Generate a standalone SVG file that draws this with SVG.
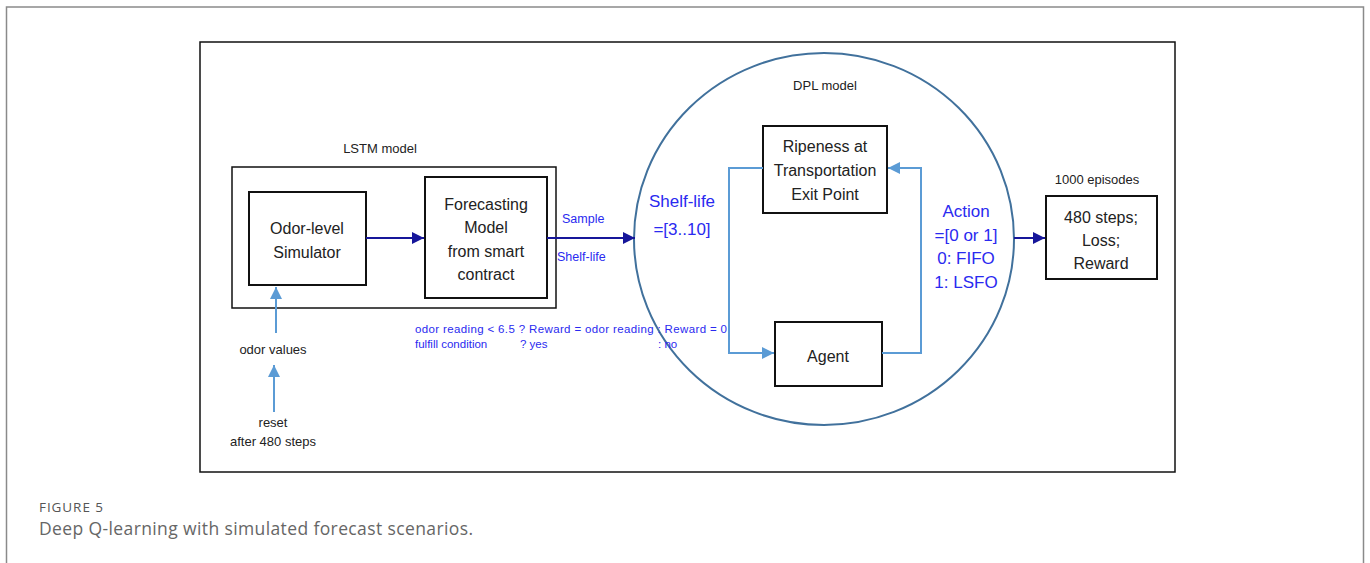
<svg xmlns="http://www.w3.org/2000/svg" width="1370" height="563" viewBox="0 0 1370 563">
<style>
.bx{fill:#fff;stroke:#111;stroke-width:2}
.t{font-family:"Liberation Sans",Arial,sans-serif;fill:#222;text-anchor:middle}
.b{font-family:"Liberation Sans",Arial,sans-serif;fill:#2a2af0}
.nv{stroke:#16169a;stroke-width:2;fill:none}
.lb{stroke:#5b9bd5;stroke-width:2;fill:none}
</style>
<defs>
<marker id="an" viewBox="0 0 10 10" refX="10" refY="5" markerWidth="6" markerHeight="6" orient="auto" markerUnits="strokeWidth"><path d="M0,0L10,5L0,10z" fill="#16169a"/></marker>
<marker id="al" viewBox="0 0 10 10" refX="10" refY="5" markerWidth="6" markerHeight="6" orient="auto" markerUnits="strokeWidth"><path d="M0,0L10,5L0,10z" fill="#5b9bd5"/></marker>
</defs>
<rect width="1370" height="563" fill="#fff"/>
<rect x="6.5" y="7" width="1357" height="570" fill="none" stroke="#8a8a8a" stroke-width="1.5"/>
<rect x="200" y="42" width="975" height="430" fill="none" stroke="#111" stroke-width="1.5"/>

<g id="lstm">
<rect x="232" y="167" width="324" height="141" fill="none" stroke="#111" stroke-width="1.5"/>
<text class="t" x="380" y="153" font-size="13">LSTM model</text>
</g>
<g id="dpl">
<ellipse cx="824" cy="239" rx="190" ry="186" fill="none" stroke="#41719c" stroke-width="2"/>
<text class="t" x="825" y="90" font-size="13">DPL model</text>
</g>

<g id="odor">
<rect class="bx" x="249" y="192" width="117" height="93"/>
<text class="t" x="307" y="234" font-size="16">Odor-level</text>
<text class="t" x="307" y="258" font-size="16">Simulator</text>
</g>
<g id="forecast">
<rect class="bx" x="425" y="177" width="122" height="121"/>
<text class="t" x="486" y="210" font-size="16">Forecasting</text>
<text class="t" x="486" y="233" font-size="16">Model</text>
<text class="t" x="486" y="257" font-size="16">from smart</text>
<text class="t" x="486" y="280" font-size="16">contract</text>
</g>
<g id="ripeness">
<rect class="bx" x="763" y="126" width="124" height="87"/>
<text class="t" x="825" y="152" font-size="16">Ripeness  at</text>
<text class="t" x="825" y="176" font-size="16">Transportation</text>
<text class="t" x="825" y="200" font-size="16">Exit Point</text>
</g>
<g id="agent">
<rect class="bx" x="775" y="322" width="107" height="64"/>
<text class="t" x="828" y="362" font-size="16">Agent</text>
</g>
<g id="result">
<rect class="bx" x="1046" y="196" width="111" height="83"/>
<text class="t" x="1097" y="184" font-size="13">1000  episodes</text>
<text class="t" x="1101" y="223" font-size="16">480 steps;</text>
<text class="t" x="1101" y="246" font-size="16">Loss;</text>
<text class="t" x="1101" y="269" font-size="16">Reward</text>
</g>

<g id="connectors">
<line class="nv" x1="366" y1="238" x2="424" y2="238" marker-end="url(#an)"/>
<line class="nv" x1="547" y1="238" x2="635" y2="238" marker-end="url(#an)"/>
<line class="nv" x1="1014" y1="238" x2="1045" y2="238" marker-end="url(#an)"/>
<polyline class="lb" points="763,168 729,168 729,353 774,353" marker-end="url(#al)"/>
<polyline class="lb" points="882,353 921,353 921,168 888,168" marker-end="url(#al)"/>
<line class="lb" x1="276" y1="333" x2="276" y2="287" marker-end="url(#al)"/>
<line class="lb" x1="274" y1="412" x2="274" y2="365" marker-end="url(#al)"/>
</g>

<g id="labels">
<text class="b" x="562" y="223" font-size="12.5">Sample</text>
<text class="b" x="557" y="261" font-size="12.5">Shelf-life</text>
<text class="b" x="682" y="207" font-size="17" text-anchor="middle">Shelf-life</text>
<text class="b" x="682" y="235" font-size="17" text-anchor="middle">=[3..10]</text>
<text class="b" x="966" y="217" font-size="17" text-anchor="middle">Action</text>
<text class="b" x="966" y="241" font-size="17" text-anchor="middle">=[0 or 1]</text>
<text class="b" x="966" y="264" font-size="17" text-anchor="middle">0: FIFO</text>
<text class="b" x="966" y="288" font-size="17" text-anchor="middle">1: LSFO</text>
<text class="b" x="415" y="333" font-size="11.5" textLength="312">odor reading &lt; 6.5 ? Reward = odor reading : Reward = 0</text>
<text class="b" x="415" y="348" font-size="11.5">fulfill condition</text>
<text class="b" x="520" y="348" font-size="11.5">? yes</text>
<text class="b" x="658" y="348" font-size="11.5">: no</text>
<text class="t" x="273" y="354" font-size="13">odor values</text>
<text class="t" x="273" y="427" font-size="13">reset</text>
<text class="t" x="273" y="446" font-size="13">after 480  steps</text>
</g>

<g id="caption">
<text x="39" y="512" font-family="'Open Sans',sans-serif" font-size="13.5" fill="#555" textLength="64">FIGURE 5</text>
<text x="39" y="535" font-family="'Open Sans',sans-serif" font-size="17.5" fill="#666" textLength="434">Deep Q-learning with simulated forecast scenarios.</text>
</g>
</svg>
